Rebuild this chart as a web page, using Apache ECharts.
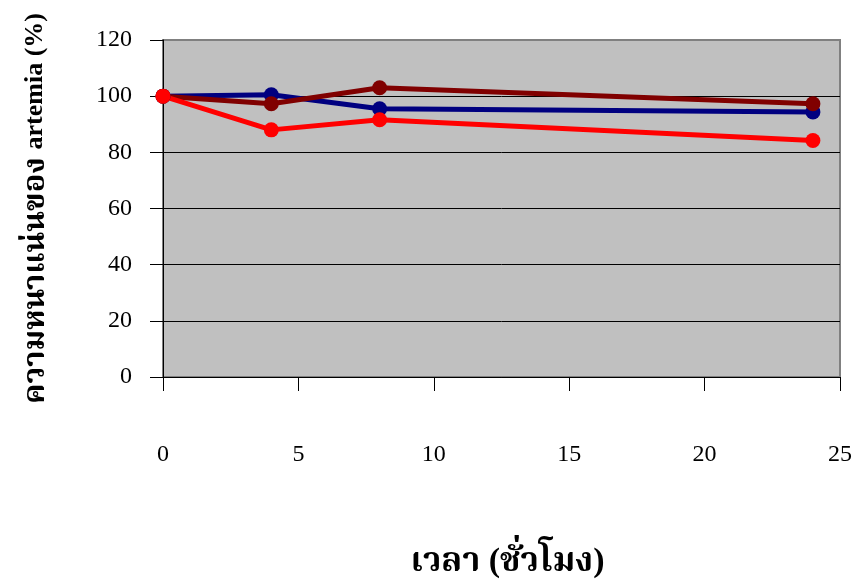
<!DOCTYPE html>
<html>
<head>
<meta charset="utf-8">
<script src="https://cdn.jsdelivr.net/npm/echarts@6/dist/echarts.min.js"></script>
<style>
  html, body { margin: 0; padding: 0; background: #ffffff; }
  #chart { width: 856px; height: 581px; }
</style>
</head>
<body>
<div id="chart"></div>
<script>
// Sampling times (hours)
const hours = [0, 4, 8, 24];
// Artemia density (%) per treatment
const seriesBlue = [100, 100.5, 95.5, 94.4];
const seriesDarkRed = [100, 97.3, 103, 97.3];
const seriesRed = [100, 88, 91.6, 84.2];

const yTicks = [0, 20, 40, 60, 80, 100, 120];
const xTicks = [0, 5, 10, 15, 20, 25];

const serif = '"Liberation Serif", "Times New Roman", "Noto Serif Thai", "Noto Sans", "DejaVu Serif", serif';

function pairs(xs, ys) {
  return xs.map((x, i) => [x, ys[i]]);
}

function lineSeries(values, color) {
  return {
    type: 'line',
    data: pairs(hours, values),
    symbol: 'circle',
    symbolSize: 15,
    lineStyle: { color: color, width: 5 },
    itemStyle: { color: color },
    emphasis: { disabled: true },
    animation: false
  };
}

const chart = echarts.init(document.getElementById('chart'), null, { renderer: 'canvas' });
chart.setOption({
  animation: false,
  grid: {
    left: 163,
    right: 16,
    top: 40,
    bottom: 204,
    outerBoundsMode: 'none',
    show: true,
    backgroundColor: '#C0C0C0',
    borderColor: '#808080',
    borderWidth: 2
  },
  xAxis: {
    type: 'value',
    min: xTicks[0],
    max: xTicks[xTicks.length - 1],
    interval: 5,
    name: '{th|เวลา (ชั่วโมง)}',
    nameLocation: 'middle',
    nameGap: 168,
    nameTextStyle: {
      padding: [0, 0, 0, 12],
      rich: {
        th: { fontFamily: serif, fontSize: 34, fontWeight: 'bold', color: '#000' }
      }
    },
    axisLine: { show: true, onZero: false, lineStyle: { color: '#000', width: 1 } },
    axisTick: { show: true, inside: false, length: 14, lineStyle: { color: '#000' } },
    axisLabel: { margin: 66, fontFamily: serif, fontSize: 24, color: '#000' },
    splitLine: { show: false }
  },
  yAxis: {
    type: 'value',
    min: yTicks[0],
    max: yTicks[yTicks.length - 1],
    interval: 20,
    name: '{th|ความหนาแน่นของ }{en|artemia (%)}',
    nameLocation: 'middle',
    nameGap: 112,
    nameTextStyle: {
      rich: {
        th: { fontFamily: serif, fontSize: 31, fontWeight: 'bold', color: '#000' },
        en: { fontFamily: serif, fontSize: 26, fontWeight: 'bold', color: '#000' }
      }
    },
    axisLine: { show: true, lineStyle: { color: '#000', width: 1 } },
    axisTick: { show: true, inside: false, length: 13, lineStyle: { color: '#000' } },
    axisLabel: { margin: 31, fontFamily: serif, fontSize: 24, color: '#000' },
    splitLine: {
      show: true,
      lineStyle: { color: ['#000', '#000', '#000', '#000', '#000', '#000', '#808080'], width: 1 }
    }
  },
  series: [
    lineSeries(seriesBlue, '#000080'),
    lineSeries(seriesDarkRed, '#800000'),
    lineSeries(seriesRed, '#FF0000')
  ]
});
</script>
</body>
</html>
